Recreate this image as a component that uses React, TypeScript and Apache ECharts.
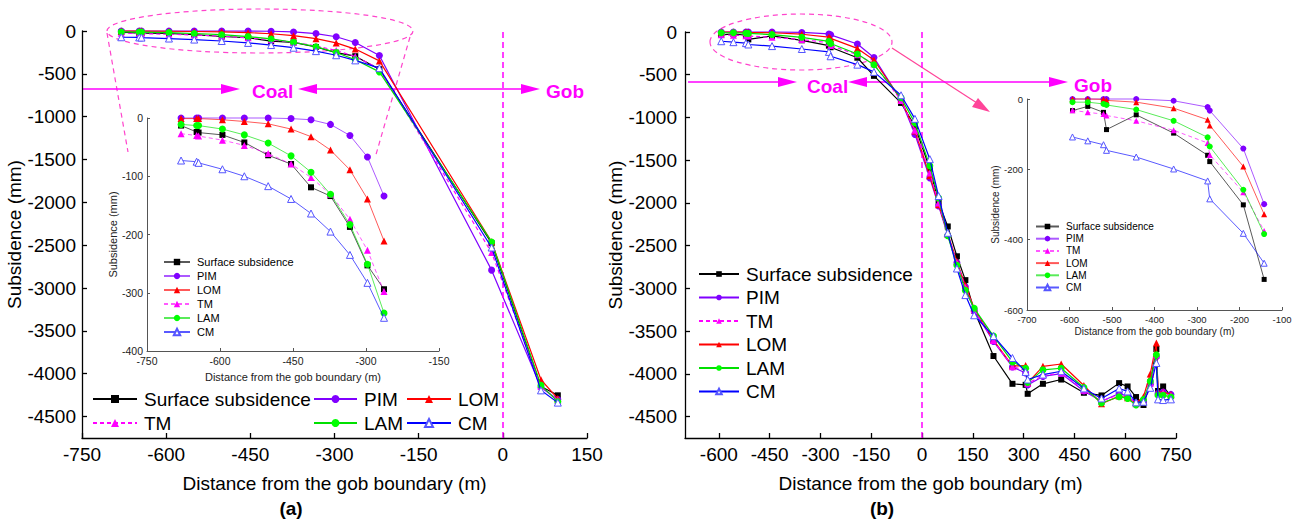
import React, { useEffect, useRef } from "react";
import * as echarts from "echarts";

const FONT = "'Liberation Sans', Arial, sans-serif";

// ---------- (a) data ----------
const xA = [-680, -648, -644, -595, -550, -501, -454, -413, -373, -333, -297, -263, -220, -20, 68, 98];
const ssA = [-13, -24, -25, -29, -42, -64, -79, -119, -134, -187, -253, -294, -446, -2477, -4150, -4252];
const pimA = [0, 0, 0, 0, 0, 0, -1, -3, -11, -30, -67, -134, -287, -2791, -4160, -4300];
const lomA = [-1, -1, -1, -3, -6, -10, -19, -32, -55, -89, -139, -211, -349, -2460, -4070, -4290];
const tmA = [-27, -30, -31, -38, -47, -61, -79, -102, -131, -174, -227, -298, -440, -2585, -4150, -4310];
const lamA = [-11, -13, -13, -19, -29, -43, -65, -93, -131, -183, -251, -335, -477, -2462, -4136, -4326];
const cmA = [-73, -75, -77, -88, -100, -117, -139, -164, -195, -235, -283, -343, -434, -2527, -4194, -4337];
const insetCountA = 12;

// ---------- (b) data ----------
const xB = [-593, -557, -520, -513, -443, -355, -275, -270, -191, -142, -62, -21, 23, 49, 76, 103, 128, 154, 211, 267, 306, 312, 357, 411, 478, 530, 582, 607, 632, 654, 674, 692, 697, 712, 735];
const ssB = [-33, -21, -38, -87, -45, -97, -160, -178, -301, -513, -830, -1100, -1600, -1990, -2275, -2624, -2903, -3260, -3791, -4116, -4128, -4233, -4116, -4066, -4221, -4252, -4108, -4147, -4271, -4364, -4100, -3709, -4200, -4147, -4260];
const pimB = [0, 0, 0, 0, 0, -5, -23, -33, -141, -299, -800, -1198, -1709, -2035, -2380, -2700, -2980, -3260, -3620, -3919, -3990, -4130, -4030, -3996, -4200, -4320, -4230, -4260, -4340, -4320, -4120, -3800, -4230, -4213, -4240];
const tmB = [-32, -38, -43, -47, -62, -89, -125, -159, -265, -375, -800, -1150, -1650, -2000, -2370, -2700, -2990, -3250, -3610, -3915, -3960, -4110, -4020, -3990, -4190, -4320, -4240, -4260, -4350, -4320, -4110, -3780, -4230, -4220, -4250];
const lomB = [0, 0, -1, -4, -9, -26, -59, -75, -192, -328, -790, -1159, -1682, -2020, -2360, -2686, -2965, -3233, -3605, -3907, -3903, -4105, -3911, -3884, -4136, -4349, -4260, -4280, -4340, -4267, -4000, -3640, -4209, -4213, -4240];
const lamB = [-9, -9, -14, -17, -30, -62, -109, -135, -258, -384, -770, -1063, -1566, -1942, -2384, -2730, -3023, -3233, -3558, -3860, -3934, -4100, -3953, -3934, -4160, -4340, -4267, -4287, -4364, -4300, -4085, -3777, -4250, -4250, -4270];
const cmB = [-108, -119, -130, -146, -165, -199, -233, -284, -382, -467, -740, -1016, -1488, -1919, -2349, -2767, -3078, -3314, -3558, -3814, -3977, -4066, -4008, -3969, -4170, -4287, -4171, -4205, -4333, -4326, -4163, -3872, -4298, -4306, -4298];
const insetCountB = 10;

// ---------- tick labels ----------
const mainYTicks = [0, -500, -1000, -1500, -2000, -2500, -3000, -3500, -4000, -4500];
const rightXTicks = [-600, -450, -300, -150, 0, 150, 300, 450, 600, 750];

const NAMES = ["Surface subsidence", "PIM", "LOM", "TM", "LAM", "CM"];
const STY: Record<string, any> = {
  "Surface subsidence": { color: "#000000", symbol: "rect", fill: "#000000" },
  PIM: { color: "#8000ff", symbol: "circle", fill: "#8000ff" },
  LOM: { color: "#ff0000", symbol: "triangle", fill: "#ff0000" },
  TM: { color: "#ff00ff", symbol: "triangle", fill: "#ff00ff", dashed: true },
  LAM: { color: "#00e000", symbol: "circle", fill: "#00ff00" },
  CM: { color: "#0000ff", symbol: "triangle", fill: "#ffffff", border: "#5555ff" },
};
const ySeries = (set: "a" | "b"): Record<string, number[]> =>
  set === "a"
    ? { "Surface subsidence": ssA, PIM: pimA, LOM: lomA, TM: tmA, LAM: lamA, CM: cmA }
    : { "Surface subsidence": ssB, PIM: pimB, LOM: lomB, TM: tmB, LAM: lamB, CM: cmB };

function makeSeries(prefix: string, xs: number[], ys: Record<string, number[]>, count: number, axisIndex: number, inset: boolean, size: number) {
  return NAMES.map((n, k) => {
    const s = STY[n];
    const vals = ys[n];
    const data = xs.slice(0, count).map((x, i) => [x, vals[i]]);
    const ser: any = {
      type: "line",
      name: prefix + "|" + n,
      xAxisIndex: axisIndex,
      yAxisIndex: axisIndex,
      data,
      symbol: s.symbol,
      symbolSize: s.symbol === "rect" ? size - 1 : size,
      showSymbol: true,
      clip: false,
      lineStyle: { color: s.color, width: inset ? 1 : 1.2, type: s.dashed ? [4, 3] : "solid", opacity: inset ? 0.65 : 1 },
      itemStyle: { color: s.fill, borderColor: s.border || s.fill, borderWidth: s.border ? 1 : 0, opacity: 1 },
      emphasis: { disabled: true },
      z: 3 + k,
    };
    return ser;
  });
}

const PINK = "#ff44cc";
const MAG = "#ff00ff";
const plain = (v: number) => String(v);

function legend(left: number, top: number, data: string[], fontSize: number, itemWidth: number, itemHeight: number, itemGap: number, lineHeight: number) {
  return {
    orient: "vertical",
    left,
    top,
    data,
    padding: 0,
    selectedMode: false,
    itemWidth,
    itemHeight,
    itemGap,
    formatter: (n: string) => n.split("|")[1],
    textStyle: { fontSize, fontFamily: FONT, color: "#000", lineHeight, padding: [0, 0, 0, 2] },
  };
}

const mainAxis = (extra: any) => ({
  type: "value",
  splitLine: { show: false },
  axisLine: { show: true, onZero: false, lineStyle: { color: "#000", width: 1.3 } },
  axisTick: { show: true, inside: true, length: 5, lineStyle: { color: "#000", width: 1.3 } },
  axisLabel: { color: "#000", fontSize: 19, fontFamily: FONT, margin: 7, formatter: plain },
  nameLocation: "middle",
  nameTextStyle: { color: "#000", fontSize: 19, fontFamily: FONT },
  ...extra,
});
const insetAxis = (extra: any, fs: number) => ({
  type: "value",
  splitLine: { show: false },
  axisLine: { show: true, onZero: false, lineStyle: { color: "#555", width: 1 } },
  axisTick: { show: true, inside: true, length: 3, lineStyle: { color: "#555", width: 1 } },
  axisLabel: { color: "#222", fontSize: fs, fontFamily: FONT, margin: 4, formatter: plain },
  nameLocation: "middle",
  nameTextStyle: { color: "#222", fontSize: fs + 0.5, fontFamily: FONT },
  ...extra,
});

const arrowR = (x1: number, x2: number, y: number) => [
  { type: "line", shape: { x1, y1: y, x2: x2 - 18, y2: y }, style: { stroke: MAG, lineWidth: 1.5 } },
  { type: "polygon", shape: { points: [[x2 - 19, y - 5], [x2, y], [x2 - 19, y + 5]] }, style: { fill: MAG } },
];
const magText = (text: string, x: number, y: number) => ({
  type: "text",
  x,
  y,
  style: { text, fill: MAG, font: `bold 19px ${FONT}`, verticalAlign: "middle", align: "left" },
});

export default function App() {
  const ref = useRef<HTMLDivElement>(null);
  useEffect(() => {
    if (!ref.current) return;
    const chart = echarts.init(ref.current, undefined, { renderer: "svg" });
    const yA = ySeries("a");
    const yB = ySeries("b");
    const series: any[] = [
      ...makeSeries("a", xA, yA, xA.length, 0, false, 7),
      ...makeSeries("ai", xA, yA, insetCountA, 1, true, 7),
      ...makeSeries("b", xB, yB, xB.length, 2, false, 7),
      ...makeSeries("bi", xB, yB, insetCountB, 3, true, 6),
    ];
    const vline = {
      silent: true,
      symbol: ["none", "none"],
      label: { show: false },
      lineStyle: { color: MAG, type: [6, 4], width: 1.5 },
      data: [{ xAxis: 0 }],
    };
    series[0].markLine = vline;
    series[12].markLine = vline;

    const mainYLabel = (margin: number) => ({ color: "#000", fontSize: 19, fontFamily: FONT, margin, customValues: mainYTicks, formatter: plain });
    const mainTick = (vals: number[]) => ({ show: true, inside: true, length: 5, lineStyle: { color: "#000", width: 1.3 }, customValues: vals });

    const option: any = {
      animation: false,
      backgroundColor: "#fff",
      grid: [
        { left: 82, top: 31, width: 505, height: 407, outerBoundsMode: "none" },
        { left: 147, top: 118, width: 292, height: 233, outerBoundsMode: "none" },
        { left: 685, top: 32, width: 491, height: 406, outerBoundsMode: "none" },
        { left: 1027, top: 99, width: 255, height: 211, outerBoundsMode: "none" },
      ],
      xAxis: [
        mainAxis({ gridIndex: 0, min: -750, max: 150, interval: 150, name: "Distance from the gob boundary (m)", nameGap: 36 }),
        insetAxis({ gridIndex: 1, min: -750, max: -150, interval: 150, name: "Distance from the gob boundary (m)", nameGap: 20 }, 10.5),
        mainAxis({
          gridIndex: 2,
          min: -700,
          max: 750,
          name: "Distance from the gob boundary (m)",
          nameGap: 36,
          axisTick: mainTick(rightXTicks),
          axisLabel: { color: "#000", fontSize: 19, fontFamily: FONT, margin: 7, customValues: rightXTicks, formatter: plain },
        }),
        insetAxis({ gridIndex: 3, min: -700, max: -100, interval: 100, name: "Distance from the gob boundary (m)", nameGap: 16 }, 9.5),
      ],
      yAxis: [
        mainAxis({ gridIndex: 0, min: -4750, max: 0, name: "Subsidence (mm)", nameGap: 49, axisTick: mainTick(mainYTicks), axisLabel: mainYLabel(6) }),
        insetAxis({ gridIndex: 1, min: -400, max: 0, interval: 100, name: "Subsidence (mm)", nameGap: 27 }, 10.5),
        mainAxis({ gridIndex: 2, min: -4750, max: 0, name: "Subsidence (mm)", nameGap: 55, axisTick: mainTick(mainYTicks), axisLabel: mainYLabel(8) }),
        insetAxis({ gridIndex: 3, min: -600, max: 0, interval: 200, name: "Subsidence (mm)", nameGap: 26 }, 9.5),
      ],
      legend: [
        legend(92, 389, ["a|Surface subsidence", "a|TM"], 19, 44, 10, 4, 20),
        legend(313, 389, ["a|PIM", "a|LAM"], 19, 43, 10, 4, 20),
        legend(406, 389, ["a|LOM", "a|CM"], 19, 44, 10, 4, 20),
        legend(163, 256, NAMES.map((n) => "ai|" + n), 11, 26, 8, 2, 12),
        legend(698, 264, ["Surface subsidence", "PIM", "TM", "LOM", "LAM", "CM"].map((n) => "b|" + n), 19, 40, 7, 3.5, 20),
        legend(1035, 221, ["Surface subsidence", "PIM", "TM", "LOM", "LAM", "CM"].map((n) => "bi|" + n), 10, 23, 7, 1.2, 11),
      ],
      series,
      graphic: [
        // (a) annotations
        { type: "ellipse", shape: { cx: 260, cy: 31, rx: 153, ry: 22 }, style: { fill: "none", stroke: PINK, lineWidth: 1.2, lineDash: [5, 4] }, silent: true },
        { type: "line", shape: { x1: 107, y1: 33, x2: 128, y2: 152 }, style: { stroke: PINK, lineWidth: 1.2, lineDash: [5, 4] }, silent: true },
        { type: "line", shape: { x1: 410, y1: 37, x2: 375, y2: 158 }, style: { stroke: PINK, lineWidth: 1.2, lineDash: [5, 4] }, silent: true },
        ...arrowR(83, 240, 89),
        magText("Coal", 252, 91),
        { type: "line", shape: { x1: 316, y1: 89, x2: 522, y2: 89 }, style: { stroke: MAG, lineWidth: 1.5 } },
        { type: "polygon", shape: { points: [[298, 89], [317, 84], [317, 94]] }, style: { fill: MAG } },
        { type: "polygon", shape: { points: [[521, 84], [540, 89], [521, 94]] }, style: { fill: MAG } },
        magText("Gob", 546, 91),
        { type: "text", x: 291, y: 508, style: { text: "(a)", fill: "#000", font: `bold 19px ${FONT}`, align: "center", verticalAlign: "middle" } },
        // (b) annotations
        { type: "ellipse", shape: { cx: 801, cy: 42, rx: 91, ry: 28 }, style: { fill: "none", stroke: PINK, lineWidth: 1.2, lineDash: [5, 4] }, silent: true },
        { type: "line", shape: { x1: 892, y1: 48, x2: 977, y2: 103 }, style: { stroke: "#ff4499", lineWidth: 1.2 }, silent: true },
        { type: "polygon", shape: { points: [[972, 107], [978, 98], [990, 112]] }, style: { fill: "#ff4499" } },
        ...arrowR(688, 797, 82),
        magText("Coal", 807, 86),
        { type: "line", shape: { x1: 866, y1: 82, x2: 1050, y2: 82 }, style: { stroke: MAG, lineWidth: 1.5 } },
        { type: "polygon", shape: { points: [[848, 82], [867, 77], [867, 87]] }, style: { fill: MAG } },
        { type: "polygon", shape: { points: [[1049, 77], [1068, 82], [1049, 87]] }, style: { fill: MAG } },
        magText("Gob", 1074, 85),
        { type: "text", x: 882, y: 508, style: { text: "(b)", fill: "#000", font: `bold 19px ${FONT}`, align: "center", verticalAlign: "middle" } },
      ],
    };
    chart.setOption(option);
    return () => chart.dispose();
  }, []);
  return <div ref={ref} style={{ position: "fixed", left: 0, top: 0, width: 1305, height: 522, background: "#fff" }} />;
}
